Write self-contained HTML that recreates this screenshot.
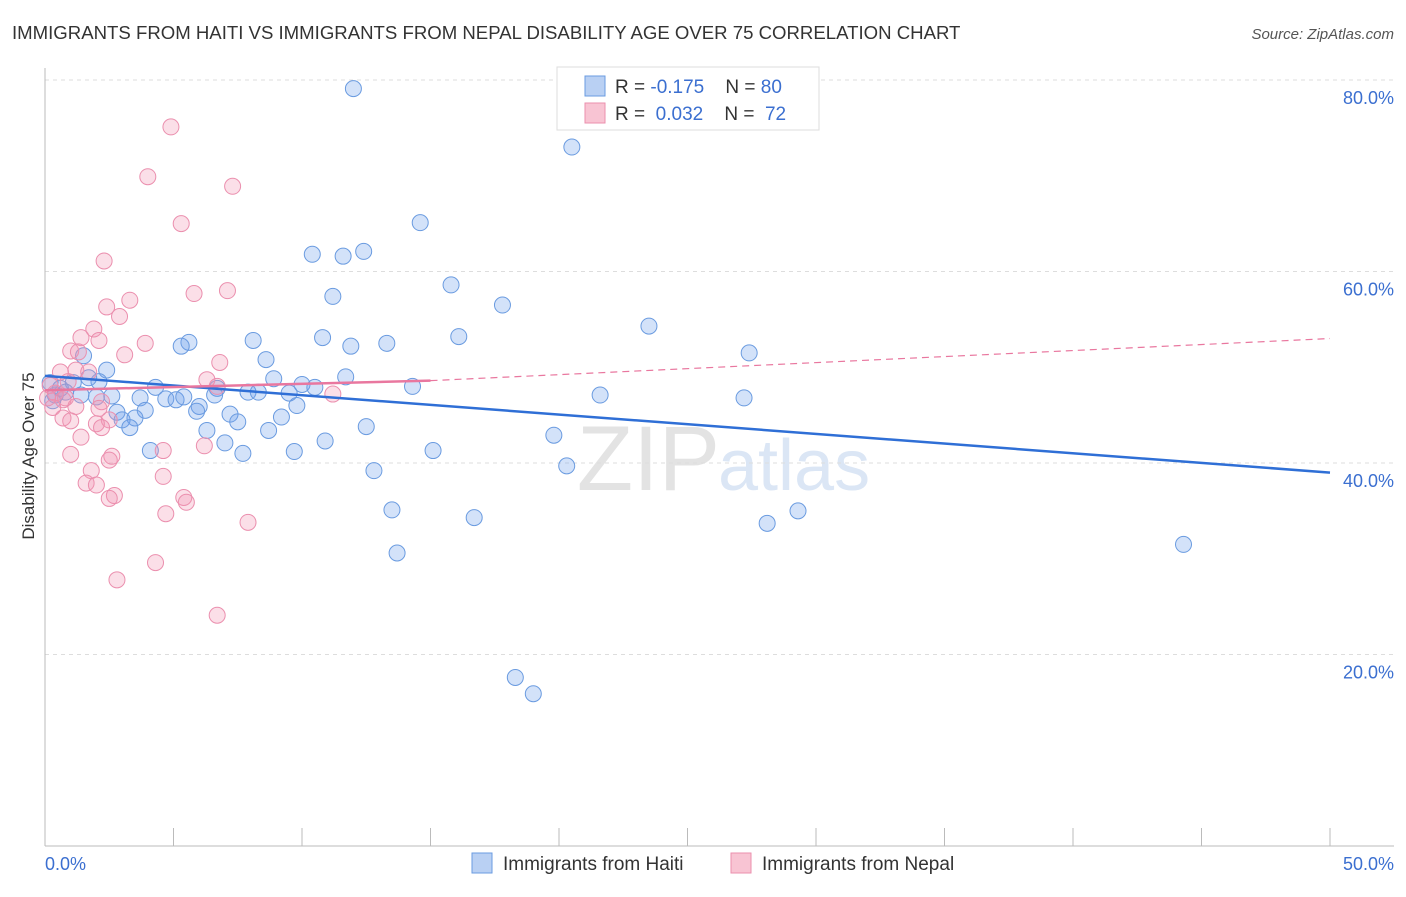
<!DOCTYPE html>
<html><head><meta charset="utf-8"><style>
body{margin:0;background:#fff;font-family:"Liberation Sans",sans-serif;}
svg text{font-family:"Liberation Sans",sans-serif;}
</style></head><body>
<svg width="1406" height="892" viewBox="0 0 1406 892" xmlns="http://www.w3.org/2000/svg">
<text x="12" y="39" font-size="18.6" fill="#333">IMMIGRANTS FROM HAITI VS IMMIGRANTS FROM NEPAL DISABILITY AGE OVER 75 CORRELATION CHART</text>
<text x="1394" y="39" font-size="15" fill="#555" font-style="italic" text-anchor="end">Source: ZipAtlas.com</text>
<text x="720" y="490" font-size="92" fill="#e3e3e3" text-anchor="end" font-family="Liberation Serif">ZIP</text>
<text x="718" y="490" font-size="72" fill="#dbe6f5">atlas</text>
<g id="grid"></g>
<g id="axes"></g>
<g id="pts"></g>
<g id="trends"></g>
<text transform="translate(34,456) rotate(-90)" font-size="17" fill="#333" text-anchor="middle">Disability Age Over 75</text>
<g>
<rect x="557" y="67" width="262" height="63" fill="#fff" stroke="#ddd"/>
<rect x="585" y="76" width="20" height="20" fill="#b9d0f3" stroke="#6a9be0"/>
<rect x="585" y="103" width="20" height="20" fill="#f8c4d3" stroke="#eb8fae"/>
<text x="615" y="93" font-size="19" fill="#333" xml:space="preserve">R = <tspan fill="#3b6fd0">-0.175</tspan>    N = <tspan fill="#3b6fd0">80</tspan></text>
<text x="615" y="120" font-size="19" fill="#333" xml:space="preserve">R =  <tspan fill="#3b6fd0">0.032</tspan>    N =  <tspan fill="#3b6fd0">72</tspan></text>
</g>
<g>
<rect x="472" y="853" width="20" height="20" fill="#b9d0f3" stroke="#6a9be0"/>
<text x="503" y="870" font-size="19" fill="#333">Immigrants from Haiti</text>
<rect x="731" y="853" width="20" height="20" fill="#f8c4d3" stroke="#eb8fae"/>
<text x="762" y="870" font-size="19" fill="#333">Immigrants from Nepal</text>
</g>
</svg>
<script>
const xTicks=[0,5,10,15,20,25,30,35,40,45,50];
const yTicks=[20,40,60,80];
const yTickLabels=["20.0%","40.0%","60.0%","80.0%"];
const xEndLabels=["0.0%","50.0%"];
const haitiX=[12.0,20.5,14.6,10.4,11.6,12.4,15.8,11.2,17.8,23.5,10.8,16.1,8.1,5.6,5.3,11.9,13.3,27.4,8.6,1.5,2.4,11.7,8.9,10.0,10.5,14.3,4.3,6.7,7.9,8.3,9.5,21.6,27.2,2.0,2.6,3.7,4.7,5.1,5.4,6.6,6.0,9.8,3.9,5.9,2.8,7.2,9.2,3.5,3.0,7.5,3.3,6.3,8.7,12.5,10.9,19.8,7.0,4.1,9.7,15.1,7.7,20.3,12.8,13.5,16.7,28.1,29.3,44.3,13.7,18.3,19.0,0.2,0.6,1.1,2.1,1.7,0.4,0.8,1.4,0.3];
const haitiY=[79.1,73.0,65.1,61.8,61.6,62.1,58.6,57.4,56.5,54.3,53.1,53.2,52.8,52.6,52.2,52.2,52.5,51.5,50.8,51.2,49.7,49.0,48.8,48.2,47.9,48.0,47.9,47.8,47.4,47.4,47.3,47.1,46.8,46.9,47.0,46.8,46.7,46.6,46.9,47.1,45.9,46.0,45.5,45.4,45.3,45.1,44.8,44.7,44.5,44.3,43.7,43.4,43.4,43.8,42.3,42.9,42.1,41.3,41.2,41.3,41.0,39.7,39.2,35.1,34.3,33.7,35.0,31.5,30.6,17.6,15.9,48.4,47.8,48.4,48.5,48.9,47.1,47.4,47.1,46.5];
const nepalX=[4.9,4.0,7.3,5.3,2.3,5.8,7.1,3.3,2.4,2.9,1.9,1.4,2.1,3.9,1.0,1.3,3.1,6.8,1.2,1.7,6.3,0.9,0.2,0.4,0.7,6.7,11.2,2.2,0.3,1.2,2.1,0.7,1.0,2.5,2.0,2.2,1.4,6.2,4.6,1.0,2.6,2.5,1.8,4.6,1.6,2.0,2.7,2.5,5.4,5.5,4.7,7.9,4.3,2.8,6.7,0.6,0.1,0.8];
const nepalY=[75.1,69.9,68.9,65.0,61.1,57.7,58.0,57.0,56.3,55.3,54.0,53.1,52.8,52.5,51.7,51.6,51.3,50.5,49.7,49.5,48.7,48.5,48.1,47.3,46.6,48.0,47.2,46.4,45.8,45.9,45.7,44.7,44.4,44.5,44.1,43.7,42.7,41.8,41.3,40.9,40.7,40.3,39.2,38.6,37.9,37.7,36.6,36.3,36.4,35.9,34.7,33.8,29.6,27.8,24.1,49.5,46.8,46.8];
const haitiTrendX=[0,50], haitiTrendY=[49.1,39.0];
const nepalTrendX=[0,15,50], nepalTrendY=[47.6,48.6,53.0];

const NS="http://www.w3.org/2000/svg";
const X0=45,X1=1330,Y0=846,PY=191.5/20;
const sx=v=>X0+(v/50)*(X1-X0);
const sy=v=>Y0-v*PY;
function mk(tag,attrs,parent){const e=document.createElementNS(NS,tag);for(const k in attrs)e.setAttribute(k,attrs[k]);document.getElementById(parent).appendChild(e);return e;}

yTicks.forEach((t,i)=>{
  const l=mk('line',{x1:X0,x2:1394,y1:sy(t),y2:sy(t),stroke:'#ddd','stroke-dasharray':'4,4'},'grid');
  
  
  const tx=mk('text',{x:1394,y:sy(t)+24,'font-size':18,fill:'#3b6fd0','text-anchor':'end'},'grid');
  tx.textContent=yTickLabels[i];
  
  
});
const ya=mk('line',{x1:X0,x2:X0,y1:68,y2:Y0,stroke:'#bbb'},'axes');


const xa=mk('line',{x1:X0,x2:1394,y1:Y0,y2:Y0,stroke:'#bbb'},'axes');


xTicks.forEach(t=>{
  const l=mk('line',{x1:sx(t),x2:sx(t),y1:Y0,y2:Y0-18,stroke:'#bbb'},'axes');
  
  
});
[[0,'start'],[50,'end']].forEach((p,i)=>{
  const tx=mk('text',{x:i?1394:45,y:870,'font-size':18,fill:'#3b6fd0','text-anchor':p[1]},'axes');
  tx.textContent=xEndLabels[i];
  
  
});
haitiX.forEach((v,i)=>{
  const c=mk('circle',{cx:sx(v),cy:sy(haitiY[i]),r:8,fill:'rgba(110,160,235,0.3)',stroke:'#6a9be0','stroke-width':1},'pts');
  
  
});
nepalX.forEach((v,i)=>{
  const c=mk('circle',{cx:sx(v),cy:sy(nepalY[i]),r:8,fill:'rgba(242,150,180,0.3)',stroke:'#eb8fae','stroke-width':1},'pts');
  
  
});
const bt=mk('line',{x1:sx(haitiTrendX[0]),y1:sy(haitiTrendY[0]),x2:sx(haitiTrendX[1]),y2:sy(haitiTrendY[1]),stroke:'#2f6fd6','stroke-width':2.5},'trends');


const pd=mk('line',{x1:sx(nepalTrendX[1]),y1:sy(nepalTrendY[1]),x2:sx(nepalTrendX[2]),y2:sy(nepalTrendY[2]),stroke:'#e9779f','stroke-width':1.2,'stroke-dasharray':'7,5'},'trends');


const ps=mk('line',{x1:sx(nepalTrendX[0]),y1:sy(nepalTrendY[0]),x2:sx(nepalTrendX[1]),y2:sy(nepalTrendY[1]),stroke:'#e9779f','stroke-width':2.5},'trends');


</script>
</body></html>
